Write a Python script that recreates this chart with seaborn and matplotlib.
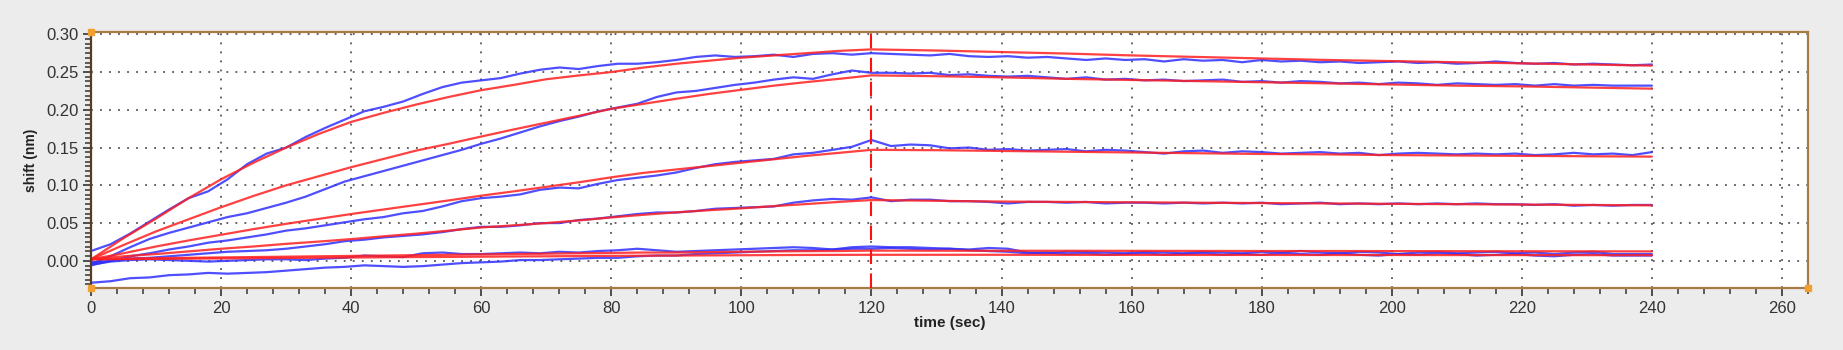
import matplotlib
matplotlib.use("Agg")
import matplotlib.pyplot as plt
from matplotlib.ticker import AutoMinorLocator, FormatStrFormatter, MultipleLocator
import seaborn as sns

# tiempos de la señal medida (cada 3 s) y de los ajustes
t_raw = list(range(0, 241, 3))
t_fit = list(range(0, 121, 5)) + list(range(130, 241, 10))

# señales medidas (azul)
blue_1 = [0.013, 0.022, 0.036, 0.052, 0.068, 0.083, 0.092, 0.108, 0.128, 0.142,
          0.150, 0.164, 0.176, 0.187, 0.198, 0.204, 0.211, 0.221, 0.230, 0.236,
          0.239, 0.242, 0.248, 0.253, 0.256, 0.254, 0.258, 0.261, 0.261, 0.263,
          0.266, 0.270, 0.272, 0.270, 0.271, 0.273, 0.270, 0.274, 0.275, 0.273,
          0.275, 0.274, 0.273, 0.272, 0.274, 0.271, 0.270, 0.271, 0.269, 0.270,
          0.268, 0.266, 0.268, 0.266, 0.267, 0.264, 0.267, 0.265, 0.266, 0.263,
          0.266, 0.264, 0.265, 0.263, 0.264, 0.262, 0.263, 0.264, 0.262, 0.263,
          0.261, 0.262, 0.264, 0.262, 0.261, 0.262, 0.260, 0.261, 0.260, 0.259,
          0.260]
blue_2 = [-0.004, 0.006, 0.018, 0.029, 0.037, 0.044, 0.051, 0.058, 0.063, 0.070,
          0.077, 0.085, 0.095, 0.105, 0.112, 0.119, 0.126, 0.133, 0.140, 0.147,
          0.155, 0.162, 0.170, 0.178, 0.185, 0.191, 0.198, 0.203, 0.208, 0.217,
          0.223, 0.225, 0.229, 0.233, 0.236, 0.240, 0.243, 0.241, 0.247, 0.252,
          0.249, 0.249, 0.248, 0.249, 0.246, 0.247, 0.245, 0.244, 0.245, 0.243,
          0.241, 0.243, 0.240, 0.241, 0.239, 0.240, 0.238, 0.239, 0.240, 0.237,
          0.238, 0.236, 0.238, 0.237, 0.235, 0.236, 0.234, 0.236, 0.235, 0.233,
          0.235, 0.234, 0.233, 0.234, 0.232, 0.234, 0.232, 0.233, 0.232, 0.232,
          0.232]
blue_3 = [-0.006, 0.000, 0.006, 0.010, 0.015, 0.019, 0.024, 0.027, 0.031, 0.035,
          0.040, 0.043, 0.047, 0.051, 0.055, 0.058, 0.063, 0.066, 0.072, 0.079,
          0.083, 0.085, 0.088, 0.094, 0.097, 0.096, 0.102, 0.107, 0.110, 0.113,
          0.117, 0.123, 0.128, 0.131, 0.133, 0.135, 0.141, 0.143, 0.147, 0.151,
          0.160, 0.152, 0.154, 0.153, 0.149, 0.150, 0.147, 0.148, 0.146, 0.147,
          0.148, 0.145, 0.147, 0.146, 0.144, 0.142, 0.145, 0.146, 0.143, 0.145,
          0.144, 0.142, 0.143, 0.144, 0.142, 0.143, 0.140, 0.142, 0.143, 0.142,
          0.141, 0.142, 0.141, 0.142, 0.140, 0.141, 0.143, 0.141, 0.142, 0.140,
          0.144]
blue_4 = [-0.002, 0.000, 0.003, 0.004, 0.006, 0.008, 0.010, 0.012, 0.013, 0.014,
          0.016, 0.019, 0.022, 0.026, 0.028, 0.031, 0.033, 0.035, 0.038, 0.042,
          0.045, 0.045, 0.047, 0.050, 0.050, 0.054, 0.056, 0.059, 0.062, 0.064,
          0.064, 0.066, 0.069, 0.070, 0.071, 0.072, 0.077, 0.080, 0.082, 0.081,
          0.084, 0.079, 0.081, 0.081, 0.079, 0.079, 0.078, 0.076, 0.078, 0.078,
          0.077, 0.078, 0.076, 0.077, 0.077, 0.076, 0.077, 0.076, 0.077, 0.076,
          0.077, 0.075, 0.076, 0.077, 0.075, 0.076, 0.075, 0.076, 0.075, 0.076,
          0.075, 0.076, 0.075, 0.075, 0.074, 0.075, 0.073, 0.074, 0.073, 0.074,
          0.074]
blue_5 = [-0.005, -0.001, 0.001, 0.002, 0.001, 0.000, -0.001, 0.000, 0.001, 0.002,
          0.002, 0.001, 0.003, 0.004, 0.007, 0.006, 0.005, 0.010, 0.011, 0.009,
          0.009, 0.010, 0.011, 0.010, 0.012, 0.011, 0.013, 0.014, 0.016, 0.014,
          0.012, 0.013, 0.014, 0.015, 0.016, 0.017, 0.018, 0.017, 0.015, 0.018,
          0.019, 0.018, 0.018, 0.017, 0.016, 0.015, 0.017, 0.016, 0.011, 0.010,
          0.012, 0.012, 0.011, 0.010, 0.012, 0.011, 0.010, 0.012, 0.011, 0.010,
          0.012, 0.011, 0.013, 0.011, 0.010, 0.012, 0.011, 0.009, 0.011, 0.012,
          0.010, 0.011, 0.012, 0.010, 0.011, 0.009, 0.011, 0.012, 0.009, 0.009,
          0.009]
blue_6 = [-0.029, -0.027, -0.023, -0.022, -0.019, -0.018, -0.016, -0.017, -0.016, -0.015,
          -0.013, -0.011, -0.009, -0.008, -0.006, -0.007, -0.008, -0.007, -0.005, -0.003,
          -0.002, -0.001, 0.001, 0.001, 0.002, 0.003, 0.004, 0.004, 0.006, 0.007,
          0.007, 0.009, 0.010, 0.011, 0.012, 0.013, 0.014, 0.014, 0.015, 0.016,
          0.016, 0.017, 0.016, 0.015, 0.016, 0.014, 0.013, 0.012, 0.010, 0.011,
          0.009, 0.010, 0.008, 0.009, 0.010, 0.008, 0.009, 0.010, 0.008, 0.009,
          0.008, 0.010, 0.009, 0.008, 0.010, 0.008, 0.007, 0.009, 0.008, 0.010,
          0.009, 0.007, 0.008, 0.009, 0.007, 0.006, 0.008, 0.009, 0.007, 0.007,
          0.007]

# curvas de ajuste (rojo)
red_1 = [0.002, 0.030, 0.056, 0.083, 0.108, 0.130, 0.150, 0.168, 0.184, 0.196,
         0.207, 0.217, 0.226, 0.233, 0.2405, 0.2455, 0.250, 0.256, 0.261, 0.265,
         0.269, 0.272, 0.275, 0.278, 0.280,
         0.2785, 0.2765, 0.2745, 0.272, 0.270, 0.268, 0.266, 0.2645, 0.263, 0.2615, 0.260, 0.2585]
red_2 = [0.002, 0.021, 0.039, 0.055, 0.071, 0.086, 0.100, 0.112, 0.124, 0.135,
         0.146, 0.155, 0.1646, 0.174, 0.183, 0.192, 0.2013, 0.208, 0.2146, 0.221,
         0.2265, 0.232, 0.2367, 0.241, 0.2456,
         0.2445, 0.243, 0.241, 0.2395, 0.238, 0.2365, 0.235, 0.2335, 0.232, 0.231, 0.2295, 0.228]
red_3 = [0.002, 0.010, 0.019, 0.027, 0.0345, 0.042, 0.049, 0.0555, 0.062, 0.068,
         0.074, 0.080, 0.0863, 0.092, 0.098, 0.104, 0.1106, 0.1165, 0.121, 0.1255,
         0.130, 0.1345, 0.139, 0.143, 0.147,
         0.1465, 0.1455, 0.1445, 0.1435, 0.1425, 0.1415, 0.141, 0.140, 0.1395, 0.139, 0.1385, 0.138]
red_4 = [0.002, 0.006, 0.009, 0.0125, 0.016, 0.019, 0.0225, 0.0255, 0.0288, 0.0325,
         0.036, 0.040, 0.0442, 0.047, 0.050, 0.0535, 0.0575, 0.061, 0.0642, 0.067,
         0.0695, 0.0725, 0.0752, 0.078, 0.0805,
         0.0795, 0.0785, 0.078, 0.0775, 0.077, 0.0765, 0.076, 0.0755, 0.075, 0.0745, 0.074, 0.0735]
red_5 = [0.002, 0.003, 0.0035, 0.004, 0.0045, 0.005, 0.0055, 0.006, 0.0065, 0.007,
         0.0075, 0.008, 0.0085, 0.009, 0.0095, 0.010, 0.0105, 0.011, 0.011, 0.0115,
         0.012, 0.0125, 0.0128, 0.013, 0.0135,
         0.0134, 0.0133, 0.0133, 0.0132, 0.0131, 0.013, 0.013, 0.0129, 0.0128, 0.0127, 0.0126, 0.0125]
red_6 = [0.002, 0.0023, 0.0026, 0.0029, 0.0032, 0.0035, 0.0038, 0.0041, 0.0044, 0.0047,
         0.005, 0.0052, 0.0055, 0.0058, 0.006, 0.0063, 0.0066, 0.0068, 0.007, 0.0072,
         0.0074, 0.0076, 0.0078, 0.0079, 0.008,
         0.008, 0.008, 0.0079, 0.0079, 0.0078, 0.0078, 0.0077, 0.0077, 0.0076, 0.0076, 0.0075, 0.0075]

blues = [blue_1, blue_2, blue_3, blue_4, blue_5, blue_6]
reds = [red_1, red_2, red_3, red_4, red_5, red_6]

x_ticks = list(range(0, 261, 20))
y_ticks = [0.00, 0.05, 0.10, 0.15, 0.20, 0.25, 0.30]
t_switch = 120

sns.set_style("white")
plt.rcParams["font.family"] = ["Liberation Sans", "DejaVu Sans"]

fig = plt.figure(figsize=(18.43, 3.5), dpi=100, facecolor="#ececec")
ax = fig.add_axes([0.0494, 0.1771, 0.9316, 0.7314])
ax.set_facecolor("white")

for y in blues:
    sns.lineplot(x=t_raw, y=y, ax=ax, color="#3030ff", lw=1.6, alpha=0.85,
                 estimator=None, sort=False, legend=False)
for y in reds:
    sns.lineplot(x=t_fit, y=y, ax=ax, color="#ff2020", lw=1.6, alpha=0.85,
                 estimator=None, sort=False, legend=False)

ax.axvline(t_switch, color="#ff1010", lw=1.5, ls=(0, (7, 4.5)), zorder=5)

ax.set_xlim(0, 264)
ax.set_ylim(-0.036, 0.303)
ax.set_xticks(x_ticks)
ax.set_yticks(y_ticks)
ax.yaxis.set_major_formatter(FormatStrFormatter("%.2f"))
ax.xaxis.set_minor_locator(AutoMinorLocator(5))
ax.yaxis.set_minor_locator(MultipleLocator(0.00625))

ax.grid(True, which="major", color="#555555", lw=1.3, ls=(0, (1, 4)))
ax.tick_params(which="major", direction="out", length=6, width=1.2, color="#333333",
               labelsize=12, labelcolor="#333333", pad=3, left=True, bottom=True)
ax.tick_params(which="minor", direction="out", length=4.5, width=1.1, color="#333333",
               left=True, bottom=True)

for s in ax.spines.values():
    s.set_color("#a87a48")
    s.set_linewidth(1.6)
ax.spines["left"].set_color("#5a3c20")

ax.set_xlabel("time (sec)", fontsize=11, fontweight="bold", color="#222222", labelpad=0)
ax.set_ylabel("shift (nm)", fontsize=10, fontweight="bold", color="#222222", labelpad=6)

# marcas naranjas de los límites
ax.plot([0, 0, 264], [0.303, -0.036, -0.036], ls="none", marker="s", ms=4,
        color="#f0a030", clip_on=False, zorder=6)

fig.savefig("out.png", dpi=100, facecolor=fig.get_facecolor())
